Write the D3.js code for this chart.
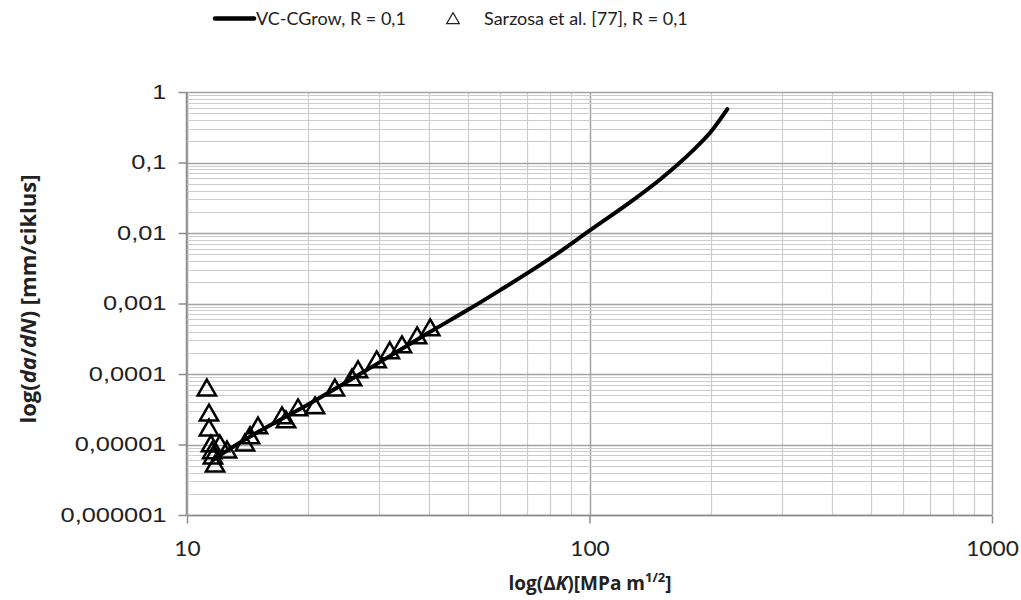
<!DOCTYPE html>
<html>
<head>
<meta charset="utf-8">
<script src="https://cdn.jsdelivr.net/npm/d3@7"></script>
<style>
  html, body { margin: 0; padding: 0; background: #fff; }
  svg { display: block; }
</style>
</head>
<body>
<svg id="chart" width="1021" height="600"></svg>
<script>
// Model prediction (VC-CGrow), R = 0.1
const modelDeltaK = [11.6, 12.5, 15, 20, 30, 40, 50, 60, 80, 100, 130, 150, 180, 200, 220];
const modelRate   = [6.0e-6, 8.0e-6, 1.5e-5, 3.7e-5, 1.45e-4, 3.9e-4, 8.2e-4, 1.55e-3, 4.4e-3, 1.08e-2, 3.1e-2, 5.8e-2, 1.45e-1, 2.7e-1, 5.7e-1];

// Experimental points (Sarzosa et al. [77]), R = 0.1
const expDeltaK = [11.2, 11.34, 11.34, 11.47, 11.55, 11.6, 11.74, 12.07, 12.57, 13.93, 14.34, 15.01, 17.22, 17.62, 18.87, 20.8, 23.3, 25.7, 26.6, 29.6, 31.9, 34.2, 37.3, 40.2];
const expRate   = [5.9e-5, 2.6e-5, 1.6e-5, 9.5e-6, 7.6e-6, 6.4e-6, 4.9e-6, 9.5e-6, 7.8e-6, 9.8e-6, 1.24e-5, 1.71e-5, 2.38e-5, 2.08e-5, 3.09e-5, 3.3e-5, 5.9e-5, 8.2e-5, 1.07e-4, 1.48e-4, 1.99e-4, 2.42e-4, 3.24e-4, 4.2e-4];

// Axis ticks
const xTickValues = [10, 100, 1000];
const xTickLabels = ["10", "100", "1000"];
const yTickValues = [1, 0.1, 0.01, 0.001, 0.0001, 0.00001, 0.000001];
const yTickLabels = ["1", "0,1", "0,01", "0,001", "0,0001", "0,00001", "0,000001"];

const legendLabels = ["VC-CGrow, R = 0,1", "Sarzosa et al. [77], R = 0,1"];

const svg = d3.select("#chart");
const plot = { left: 187, right: 992, top: 92, bottom: 515 };

const x = d3.scaleLog().domain([10, 1000]).range([plot.left, plot.right]);
const y = d3.scaleLog().domain([1e-6, 1]).range([plot.bottom, plot.top]);

const uiFont = "Lato, 'Open Sans', sans-serif";
const titleFont = "'Open Sans', Lato, sans-serif";

// Minor + major grid lines
function logGrid(lo, hi) {
  const vals = [];
  for (let e = lo; e < hi; e++) {
    for (let m = 1; m <= 9; m++) vals.push({ v: m * Math.pow(10, e), major: m === 1 });
  }
  vals.push({ v: Math.pow(10, hi), major: true });
  return vals;
}

const grid = svg.append("g");
grid.selectAll("line.gx").data(logGrid(1, 3)).join("line")
  .attr("x1", d => Math.round(x(d.v)) + 0.5).attr("x2", d => Math.round(x(d.v)) + 0.5)
  .attr("y1", plot.top).attr("y2", plot.bottom)
  .attr("stroke", d => d.major ? "#a3a3a3" : "#cccccc")
  .attr("stroke-width", d => d.major ? 1.5 : 1.2);
grid.selectAll("line.gy").data(logGrid(-6, 0)).join("line")
  .attr("y1", d => Math.round(y(d.v)) + 0.5).attr("y2", d => Math.round(y(d.v)) + 0.5)
  .attr("x1", plot.left).attr("x2", plot.right)
  .attr("stroke", d => d.major ? "#a3a3a3" : "#cccccc")
  .attr("stroke-width", d => d.major ? 1.5 : 1.2);

// Axes
const xAxis = d3.axisBottom(x).tickValues(xTickValues)
  .tickFormat((d, i) => xTickLabels[i]).tickSize(8).tickPadding(18);
const yAxis = d3.axisLeft(y).tickValues(yTickValues)
  .tickFormat((d, i) => yTickLabels[i]).tickSize(8).tickPadding(12);

const gx = svg.append("g").attr("transform", `translate(0,${plot.bottom + 0.5})`).call(xAxis);
const gy = svg.append("g").attr("transform", `translate(${plot.left - 0.5},0)`).call(yAxis);
[gx, gy].forEach(g => {
  g.select(".domain").attr("stroke", "#8c8c8c").attr("stroke-width", 1.5);
  g.selectAll(".tick line").attr("stroke", "#8c8c8c").attr("stroke-width", 1.5);
  g.selectAll(".tick text").attr("fill", "#222");
});
gx.selectAll(".tick text").attr("font-family", uiFont).attr("font-size", 21)
  .attr("transform", "scale(1.08,1)");
// wide, stretched sans for the rate labels
const yLabelStretch = 1.27;
gy.selectAll(".tick text").attr("font-family", "'Liberation Sans', Arial, sans-serif")
  .attr("font-size", 20)
  .attr("x", -20 / yLabelStretch)
  .attr("transform", `scale(${yLabelStretch},1)`);
gx.select(".domain").attr("d", `M${plot.left},0H${plot.right}`);
gy.select(".domain").attr("d", `M0,${plot.bottom}V${plot.top}`);

// Experimental markers: open triangles
const tri = d3.symbol().type(d3.symbolTriangle).size(145);
svg.append("g").selectAll("path").data(expDeltaK.map((k, i) => [k, expRate[i]])).join("path")
  .attr("d", tri)
  .attr("transform", d => `translate(${x(d[0])},${y(d[1])})`)
  .attr("fill", "none").attr("stroke", "#000").attr("stroke-width", 2.5)
  .attr("stroke-linejoin", "miter");

// Model curve
const line = d3.line().x(d => x(d[0])).y(d => y(d[1])).curve(d3.curveMonotoneX);
svg.append("path")
  .datum(modelDeltaK.map((k, i) => [k, modelRate[i]]))
  .attr("d", line)
  .attr("fill", "none").attr("stroke", "#000").attr("stroke-width", 4)
  .attr("stroke-linecap", "round");

// Legend
const lg = svg.append("g").attr("font-family", uiFont).attr("font-size", 18).attr("fill", "#222");
lg.append("line").attr("x1", 215).attr("x2", 254).attr("y1", 18.5).attr("y2", 18.5)
  .attr("stroke", "#000").attr("stroke-width", 4.5).attr("stroke-linecap", "round");
lg.append("text").attr("x", 256).attr("y", 25).text(legendLabels[0]);
lg.append("path").attr("d", d3.symbol().type(d3.symbolTriangle).size(70))
  .attr("transform", "translate(453,20)")
  .attr("fill", "none").attr("stroke", "#222").attr("stroke-width", 1.2);
lg.append("text").attr("x", 484).attr("y", 25).text(legendLabels[1]);

// Axis titles
const yt = svg.append("text")
  .attr("transform", `translate(36,299) rotate(-90)`)
  .attr("text-anchor", "middle").attr("font-family", titleFont)
  .attr("font-weight", "bold").attr("font-size", 22).attr("fill", "#222");
yt.append("tspan").text("log(");
yt.append("tspan").attr("font-style", "italic").text("da");
yt.append("tspan").text("/");
yt.append("tspan").attr("font-style", "italic").text("dN");
yt.append("tspan").text(") [mm/ciklus]");

const xt = svg.append("text")
  .attr("x", 590).attr("y", 590)
  .attr("text-anchor", "middle").attr("font-family", titleFont)
  .attr("font-weight", "bold").attr("font-size", 19).attr("fill", "#222");
xt.append("tspan").text("log(Δ");
xt.append("tspan").attr("font-style", "italic").text("K");
xt.append("tspan").text(")[MPa m");
xt.append("tspan").attr("font-size", 13).attr("dy", -8).text("1/2");
xt.append("tspan").attr("dy", 8).text("]");
</script>
</body>
</html>
